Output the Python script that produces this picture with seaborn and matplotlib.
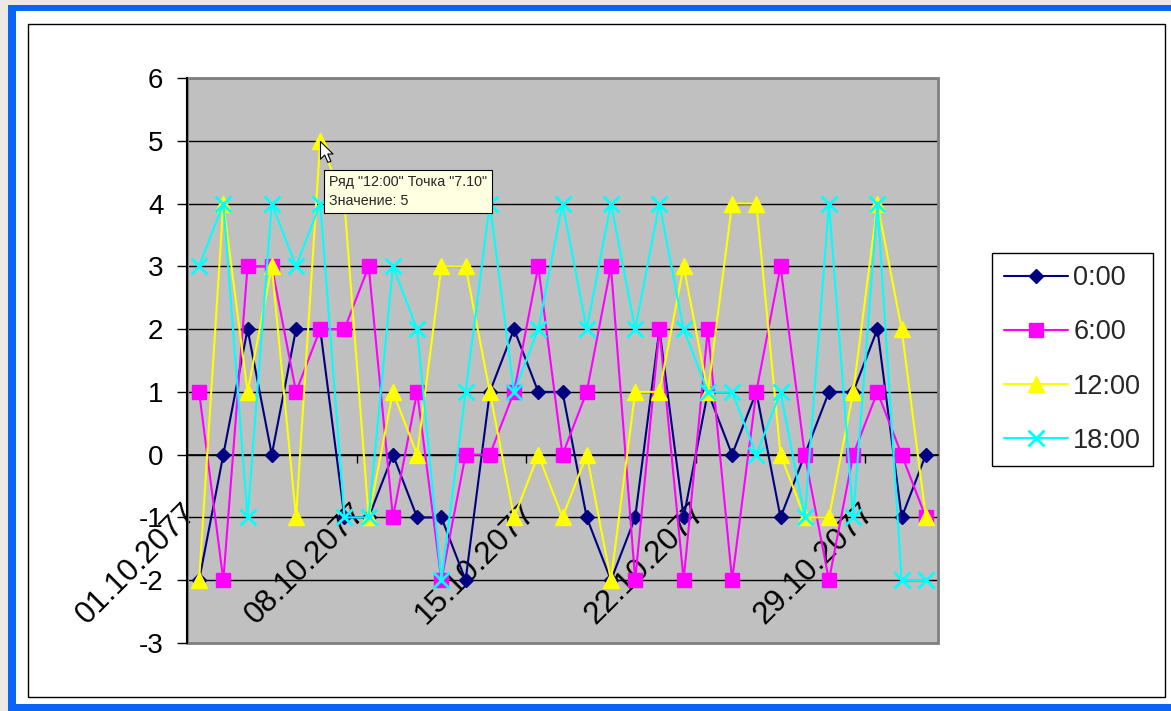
import numpy as np
import pandas as pd
import matplotlib
matplotlib.use("Agg")
import matplotlib.pyplot as plt
from matplotlib.patches import Rectangle
from matplotlib.path import Path
from matplotlib.transforms import ScaledTranslation
import seaborn as sns

# ---- data -------------------------------------------------------------
dates = [f"{d:02d}.10.2077" for d in range(1, 32)]
series_names = ["0:00", "6:00", "12:00", "18:00"]
midnight = [-2, 0, 2, 0, 2, 2, -1, -1, 0, -1, -1, -2, 1, 2, 1, 1,
            -1, -2, -1, 2, -1, 1, 0, 1, -1, 0, 1, 1, 2, -1, 0]
morning = [1, -2, 3, 3, 1, 2, 2, 3, -1, 1, -2, 0, 0, 1, 3, 0,
           1, 3, -2, 2, -2, 2, -2, 1, 3, 0, -2, 0, 1, 0, -1]
noon = [-2, 4, 1, 3, -1, 5, 4, -1, 1, 0, 3, 3, 1, -1, 0, -1,
        0, -2, 1, 1, 3, 1, 4, 4, 0, -1, -1, 1, 4, 2, -1]
evening = [3, 4, -1, 4, 3, 4, -1, -1, 3, 2, -2, 1, 4, 1, 2, 4,
           2, 4, 2, 4, 2, 1, 1, 0, 1, -1, 4, -1, 4, -2, -2]
y_ticks = [-3, -2, -1, 0, 1, 2, 3, 4, 5, 6]
label_every = 7
tooltip_series = "12:00"
tooltip_index = 5
tooltip_date = "7.10"

df = pd.DataFrame({"x": np.arange(len(dates))})
for name, vals in zip(series_names, [midnight, morning, noon, evening]):
    df[name] = vals

# ---- style ------------------------------------------------------------
sns.set_style("white")
plt.rcParams["font.family"] = ["Liberation Sans", "DejaVu Sans"]

W, H = 1171, 711
fig = plt.figure(figsize=(W / 100, H / 100), dpi=100)
fig.patch.set_facecolor("white")


def px_rect(x0, y0, x1, y1, **kw):
    r = Rectangle((x0 / W, 1 - y1 / H), (x1 - x0) / W, (y1 - y0) / H,
                  transform=fig.transFigure, **kw)
    fig.add_artist(r)
    return r


# window frame around the chart sheet
px_rect(0, 0, W, 5, fc="#ECE9E4", ec="none", zorder=0)
px_rect(0, 0, 8, H, fc="#ECE9E4", ec="none", zorder=0)
px_rect(8, 5, W, 11, fc="#0A64F5", ec="none", zorder=0)
px_rect(8, 5, 16, H, fc="#0A64F5", ec="none", zorder=0)
px_rect(8, 704, W, H, fc="#0A64F5", ec="none", zorder=0)
px_rect(28, 24, 1165, 697, fc="none", ec="black", lw=1, zorder=0)

# ---- plot area --------------------------------------------------------
ax = fig.add_axes([187 / W, 1 - 643 / H, (938 - 187) / W, (643 - 78) / H])
ax.set_facecolor("#C0C0C0")

styles = {
    "0:00": dict(color="#000080", marker="D", markersize=7.5, markeredgewidth=1),
    "6:00": dict(color="#FF00FF", marker="s", markersize=10, markeredgewidth=1),
    "12:00": dict(color="#FFFF00", marker="^", markersize=12, markeredgewidth=1),
    "18:00": dict(color="#00FFFF", marker="x", markersize=12, markeredgewidth=2),
}

for i, name in enumerate(series_names):
    st = styles[name]
    sns.lineplot(data=df, x="x", y=name, ax=ax, color=st["color"],
                 marker=st["marker"], markersize=st["markersize"],
                 markeredgecolor=st["color"], markerfacecolor=st["color"],
                 markeredgewidth=st["markeredgewidth"], linewidth=1.5,
                 label=name, zorder=3 + i, clip_on=False)

ax.set_xlim(-0.5, len(dates) - 0.5)
ax.set_ylim(y_ticks[0], y_ticks[-1])
ax.set_xlabel("")
ax.set_ylabel("")

# horizontal gridlines
ax.set_yticks(y_ticks)
ax.set_yticklabels([str(v) for v in y_ticks])
ax.grid(axis="y", color="black", linewidth=1)
ax.grid(axis="x", visible=False)
ax.set_axisbelow(True)
ax.tick_params(axis="y", direction="out", length=7, width=1, pad=10,
               labelsize=20, colors="black", left=True)

# category axis crossing at zero
for s in ["top", "right"]:
    ax.spines[s].set_visible(False)
ax.spines["left"].set_color("black")
ax.spines["left"].set_linewidth(1.5)
ax.spines["bottom"].set_position(("data", 0))
ax.spines["bottom"].set_color("black")
ax.spines["bottom"].set_linewidth(1.2)
ax.add_patch(Rectangle((0, 0), 1, 1, transform=ax.transAxes, fill=False,
                       ec="#808080", lw=2, clip_on=False, zorder=2))

label_pos = list(range(0, len(dates), label_every))
ax.set_xticks(label_pos)
ax.set_xticklabels([dates[i] for i in label_pos])
ax.set_xticks([p - 0.5 for p in label_pos[1:]], minor=True)
ax.tick_params(axis="x", which="major", length=0, pad=31, labelsize=22.5,
               colors="black", bottom=True)
ax.tick_params(axis="x", which="minor", direction="out", length=6, width=1,
               color="black", bottom=True)
shift = ScaledTranslation(-18 / 100, 0, fig.dpi_scale_trans)
for lbl in ax.get_xticklabels():
    lbl.set_rotation(45)
    lbl.set_ha("right")
    lbl.set_va("top")
    lbl.set_rotation_mode("anchor")
    lbl.set_transform(lbl.get_transform() + shift)

# legend
leg = ax.legend(loc="upper left", bbox_to_anchor=(992 / W, 1 - 253 / H),
                bbox_transform=fig.transFigure, frameon=True, fancybox=False,
                edgecolor="black", framealpha=1, fontsize=19.5,
                handlelength=2.35, handletextpad=0.2, labelspacing=1.04,
                borderpad=0.45, borderaxespad=0)
leg.get_frame().set_linewidth(1)

# hover tip on one point
tip_val = df[tooltip_series][tooltip_index]
ax.annotate(f"Ряд \"{tooltip_series}\" Точка \"{tooltip_date}\"\nЗначение: {tip_val}",
            xy=(tooltip_index, tip_val), xytext=(9, -34),
            textcoords="offset pixels", ha="left", va="top", fontsize=10.3,
            linespacing=1.45,
            bbox=dict(boxstyle="square,pad=0.35", fc="#FFFFE1", ec="black", lw=0.8),
            zorder=20, annotation_clip=False)

cursor = Path([(0, 0), (0, -17), (4, -13), (7, -20), (10, -19), (7, -12),
               (12, -12), (0, 0)],
              [Path.MOVETO] + [Path.LINETO] * 6 + [Path.CLOSEPOLY])
ax.plot([tooltip_index], [tip_val], marker=cursor, markersize=30,
        markerfacecolor="white", markeredgecolor="black", markeredgewidth=0.8,
        linestyle="none", zorder=21, clip_on=False)

fig.savefig("out.png", dpi=100, facecolor=fig.get_facecolor())
